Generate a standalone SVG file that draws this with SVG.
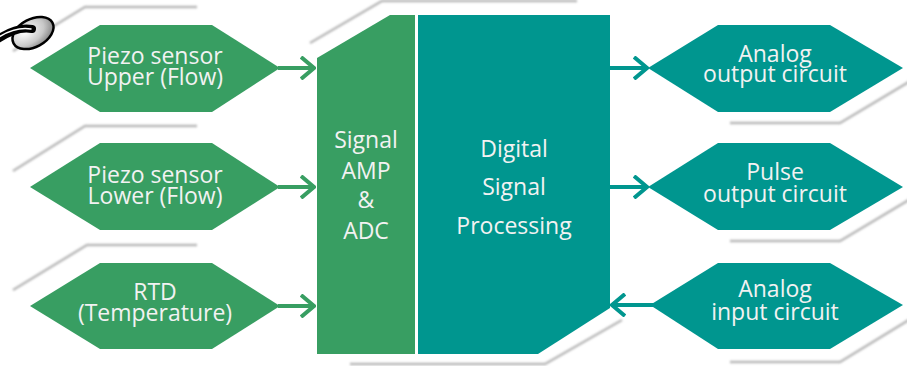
<svg xmlns="http://www.w3.org/2000/svg" width="907" height="366" viewBox="0 0 907 366">
<defs>
<filter id="blur" x="-10%" y="-10%" width="120%" height="120%"><feGaussianBlur stdDeviation="0.9"/></filter>
<radialGradient id="disc" cx="35%" cy="35%" r="75%"><stop offset="0" stop-color="#ffffff"/><stop offset="0.6" stop-color="#c8c8c8"/><stop offset="1" stop-color="#7a7a7a"/></radialGradient>
<marker id="ag" viewBox="0 0 16 24" markerWidth="16" markerHeight="24" refX="14" refY="12" orient="auto" markerUnits="userSpaceOnUse"><path d="M1,1 L14,12 L1,23" fill="none" stroke="#389e62" stroke-width="4"/></marker>
<marker id="at" viewBox="0 0 16 24" markerWidth="16" markerHeight="24" refX="14" refY="12" orient="auto" markerUnits="userSpaceOnUse"><path d="M1,1 L14,12 L1,23" fill="none" stroke="#00968f" stroke-width="4"/></marker>
</defs>
<style>
.sh{fill:none;stroke:#b8b8b8;stroke-width:2.5;filter:url(#blur)}
.g{fill:#389e62}
.t{fill:#00968f}
.tx{font-family:"Open Sans","Noto Sans",sans-serif;font-size:23px;fill:#f2f2f2;text-anchor:middle}
.cg{fill:none;stroke:#389e62;stroke-width:4}
.ct{fill:none;stroke:#00968f;stroke-width:4}
</style>
<g id="shadows">
<polyline class="sh" points="13,51 85,7 197,7"/>
<polyline class="sh" points="13,171 85,126 197,126"/>
<polyline class="sh" points="13,290 87,245 197,245"/>
<polyline class="sh" points="310,43 382,1 577,1"/>
<polyline class="sh" points="350,364 545,364 622,320"/>
<polyline class="sh" points="730,123 840,123 912,80"/>
<polyline class="sh" points="730,241 840,241 912,198"/>
<polyline class="sh" points="730,362 840,362 912,318"/>
</g>
<g id="piezo-upper">
<polygon class="g" points="30,68 100,25 212,25 280,68 212,112 100,112"/>
<text class="tx" x="155" y="64">Piezo sensor</text>
<text class="tx" x="155" y="85">Upper (Flow)</text>
</g>
<g id="piezo-lower">
<polygon class="g" points="30,187 100,143 212,143 280,187 212,230 100,230"/>
<text class="tx" x="155" y="183">Piezo sensor</text>
<text class="tx" x="155" y="204">Lower (Flow)</text>
</g>
<g id="rtd">
<polygon class="g" points="30,306 100,263 212,263 280,306 212,349 100,349"/>
<text class="tx" x="155" y="300">RTD</text>
<text class="tx" x="155" y="321">(Temperature)</text>
</g>
<g id="amp-adc">
<polygon class="g" points="317,58 390,15 415,15 415,354 317,354"/>
<text class="tx" x="366" y="148">Signal</text>
<text class="tx" x="366" y="179">AMP</text>
<text class="tx" x="366" y="208">&amp;</text>
<text class="tx" x="366" y="239">ADC</text>
</g>
<g id="dsp">
<polygon class="t" points="418,15 610,15 610,308 538,354 418,354"/>
<text class="tx" x="514" y="157">Digital</text>
<text class="tx" x="514" y="195">Signal</text>
<text class="tx" x="514" y="234">Processing</text>
</g>
<g id="analog-out">
<polygon class="t" points="648,68 718,25 830,25 903,68 830,112 718,112"/>
<text class="tx" x="775" y="62">Analog</text>
<text class="tx" x="775" y="82">output circuit</text>
</g>
<g id="pulse-out">
<polygon class="t" points="648,187 718,143 830,143 903,187 830,230 718,230"/>
<text class="tx" x="775" y="180">Pulse</text>
<text class="tx" x="775" y="202">output circuit</text>
</g>
<g id="analog-in">
<polygon class="t" points="650,305 718,263 830,263 903,305 830,349 718,349"/>
<text class="tx" x="775" y="297">Analog</text>
<text class="tx" x="775" y="320">input circuit</text>
</g>
<g id="connectors">
<line class="cg" x1="278" y1="68" x2="314" y2="68" marker-end="url(#ag)"/>
<line class="cg" x1="278" y1="187" x2="314" y2="187" marker-end="url(#ag)"/>
<line class="cg" x1="278" y1="306" x2="314" y2="306" marker-end="url(#ag)"/>
<line class="ct" x1="610" y1="68" x2="647" y2="68" marker-end="url(#at)"/>
<line class="ct" x1="610" y1="187" x2="647" y2="187" marker-end="url(#at)"/>
<line class="ct" x1="655" y1="305" x2="612" y2="305" marker-end="url(#at)"/>
</g>
<g id="disc-icon">
<ellipse cx="33" cy="33" rx="22" ry="14" transform="rotate(-28 33 33)" fill="url(#disc)" stroke="#000" stroke-width="2.5"/>
<path d="M-2,39 C10,31 22,27 32,29" fill="none" stroke="#000" stroke-width="8" stroke-linecap="round"/>
<path d="M-2,37.5 C10,30 22,27.5 31,29" fill="none" stroke="#fff" stroke-width="1.5" stroke-linecap="round"/>
</g>
</svg>
